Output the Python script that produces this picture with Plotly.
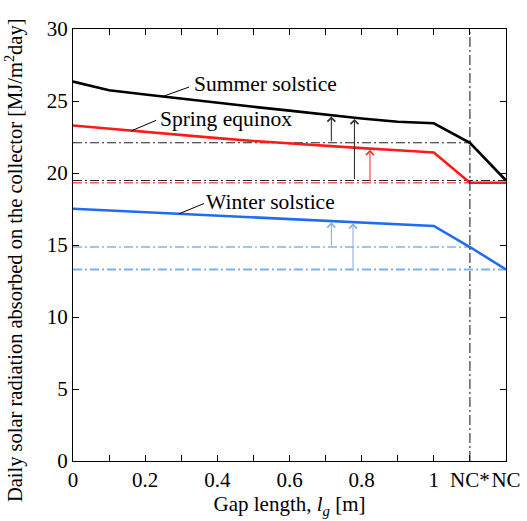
import numpy as np
import plotly.graph_objects as go

# Gap lengths (m) plus the two no-collector cases placed after 1 m
gap_x = [0.0, 0.1, 0.2, 0.3, 0.4, 0.5, 0.6, 0.7, 0.8, 0.9, 1.0]
nc_star_x = 1.1
nc_x = 1.2
x_pos = gap_x + [nc_star_x, nc_x]

# Daily absorbed solar radiation [MJ/m2day]
summer = [26.35, 25.75, 25.45, 25.15, 24.88, 24.6, 24.33, 24.05, 23.78, 23.56, 23.45, 22.1, 19.48]
spring = [23.3, 23.07, 22.85, 22.63, 22.42, 22.22, 22.04, 21.88, 21.73, 21.58, 21.42, 19.32, 19.32]
winter = [17.52, 17.4, 17.28, 17.16, 17.04, 16.92, 16.8, 16.68, 16.56, 16.44, 16.32, 14.86, 13.3]

x_ticks = [0.0, 0.2, 0.4, 0.6, 0.8, 1.0, 1.1, 1.2]
x_ticktext = ["0", "0.2", "0.4", "0.6", "0.8", "1", "NC*", "NC"]
x_minor = [0.1, 0.3, 0.5, 0.7, 0.9]
y_ticks = [0, 5, 10, 15, 20, 25, 30]

FONT = "Liberation Serif, Times New Roman, serif"
BLACK = "#000000"
RED = "#ff1a1a"
BLUE = "#1f6cf2"
DASHDOT = "9px,3px,2px,3px"

fig = go.Figure()

# Reference levels: NC* and NC values of each season
ref_lines = [
    (summer[-2], nc_star_x, "#222222", 1.0),
    (summer[-1], nc_x, "#222222", 1.0),
    (spring[-1], nc_star_x, "#ff5a5a", 1.4),
    (winter[-2], nc_star_x, "#3d8fe0", 1.2),
    (winter[-1], nc_x, "#7fb3e3", 1.8),
]
for level, x_end, color, width in ref_lines:
    fig.add_trace(go.Scatter(
        x=[0, x_end], y=[level, level], mode="lines",
        line=dict(color=color, width=width, dash=DASHDOT),
        hoverinfo="skip", showlegend=False,
    ))

# Seasonal curves
for series, color in [(summer, BLACK), (spring, RED), (winter, BLUE)]:
    fig.add_trace(go.Scatter(
        x=x_pos, y=series, mode="lines",
        line=dict(color=color, width=2.6),
        showlegend=False,
    ))

# NC* divider
fig.add_shape(type="line", x0=nc_star_x, x1=nc_star_x, y0=0, y1=30,
              xref="x", yref="y", line=dict(color="#111111", width=1, dash="10px,3px,2px,3px"))

# Gain arrows: from a reference level up to the curve
gain_arrows = [
    (0.716, summer, summer[-2], "#333333"),
    (0.780, summer, summer[-1], "#333333"),
    (0.823, spring, spring[-1], "#ff3030"),
    (0.716, winter, winter[-2], "#8fb0da"),
    (0.776, winter, winter[-1], "#8fb0da"),
]
for ax_x, series, base, color in gain_arrows:
    tip = float(np.interp(ax_x, x_pos, series))
    fig.add_annotation(
        x=ax_x, y=tip, ax=ax_x, ay=base, xref="x", yref="y", axref="x", ayref="y",
        text="", showarrow=True, arrowhead=4, arrowsize=1.4, arrowwidth=1.1,
        arrowcolor=color, standoff=1.2,
    )

# Curve labels with leader lines
curve_labels = [
    ("Summer solstice", summer, 0.248, 0.322, 25.97, 0.330, 26.18),
    ("Spring equinox", spring, 0.162, 0.231, 23.66, 0.235, 23.72),
    ("Winter solstice", winter, 0.294, 0.363, 17.88, 0.364, 18.02),
]
for text, series, lx0, lx1, ly1, tx, ty in curve_labels:
    ly0 = float(np.interp(lx0, x_pos, series))
    fig.add_shape(type="line", x0=lx0, y0=ly0, x1=lx1, y1=ly1,
                  xref="x", yref="y", line=dict(color=BLACK, width=1))
    fig.add_annotation(x=tx, y=ty, xref="x", yref="y", text=text, showarrow=False,
                       xanchor="left", yanchor="middle",
                       font=dict(family=FONT, size=21.5, color=BLACK))

# Vertical axis title, placed as rotated text left of the tick labels
fig.add_annotation(
    text="Daily solar radiation absorbed on the collector [MJ/m<sup>2</sup>day]",
    xref="paper", yref="paper", x=0, y=0.465, xshift=-59,
    xanchor="center", yanchor="middle", textangle=-90, showarrow=False,
    font=dict(family=FONT, size=20.5, color=BLACK),
)

axis_common = dict(
    showgrid=False, zeroline=False, showline=True, linecolor=BLACK, linewidth=1,
    mirror="ticks", ticks="inside", ticklen=6, tickwidth=1, tickcolor=BLACK,
    tickfont=dict(family=FONT, size=21, color=BLACK), automargin=False,
)

fig.update_xaxes(
    range=[0, 1.2], tickmode="array", tickvals=x_ticks, ticktext=x_ticktext,
    tickangle=0,
    minor=dict(tickmode="array", tickvals=x_minor, ticks="inside", ticklen=6,
               tickwidth=1, tickcolor=BLACK),
    title=dict(text="Gap length, <i>l<sub>g</sub></i> [m]",
               font=dict(family=FONT, size=21, color=BLACK), standoff=2),
    **axis_common,
)
fig.update_yaxes(range=[0, 30], tickmode="array", tickvals=y_ticks, **axis_common)

fig.update_layout(
    width=527, height=521,
    margin=dict(l=73, r=21, t=29, b=60),
    paper_bgcolor="white", plot_bgcolor="white",
    font=dict(family=FONT, color=BLACK),
)

fig.write_html("out.html")
